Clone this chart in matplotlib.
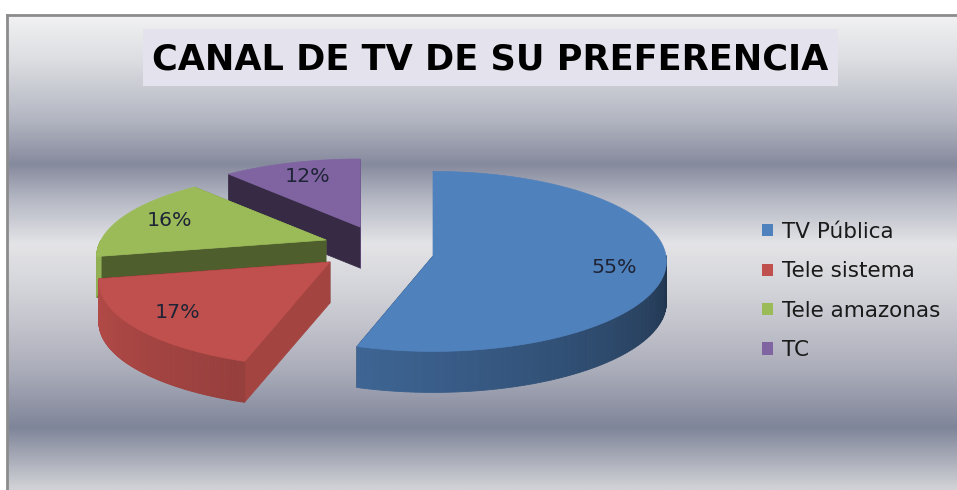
import numpy as np
import matplotlib.pyplot as plt
from matplotlib.patches import Polygon, Rectangle, Patch
from matplotlib.colors import to_rgb

# data
labels = ["TV Pública", "Tele sistema", "Tele amazonas", "TC"]
values = [55, 17, 16, 12]
colors = ["#4F81BD", "#C0504D", "#9BBB59", "#8064A2"]
title = "CANAL DE TV DE SU PREFERENCIA"

# layout of the exploded 3d pie, in pixels (one entry per slice)
centers = [(433, 256), (330, 262), (326, 240), (360, 227)]
radii = [(233, 90, 0.06), (225, 85, 0.24), (225, 85, 0.2), (225, 85, 0.2)]
depth = 41
draw_order = [3, 2, 1, 0]

# background band colours (pixel y, colour)
bg_y = [15, 60, 120, 165, 200, 245, 300, 370, 428, 488]
bg_c = ["#f2f2f3", "#dddee2", "#b3b6c2", "#868a9d", "#b5b8c4",
        "#e4e4e7", "#cfd0d6", "#abadba", "#7f8599", "#d0d1d6"]

W, H = 957, 490
FONT = "DejaVu Sans"
fig = plt.figure(figsize=(W/100, H/100), dpi=100)
ax = fig.add_axes([0, 0, 1, 1])
ax.set_xlim(0, W)
ax.set_ylim(H, 0)
ax.axis("off")

# gradient background
ys = np.arange(15, H+1)
rgb = np.array([to_rgb(c) for c in bg_c])
col = np.stack([np.interp(ys, bg_y, rgb[:, i]) for i in range(3)], axis=1)
ax.imshow(col[:, None, :], extent=[7, W, H, 15], aspect="auto", zorder=0, interpolation="bilinear")
ax.plot([7, 7], [15, H], color="#8c8c8c", lw=2, zorder=1)
ax.plot([7, W], [15, 15], color="#8c8c8c", lw=2, zorder=1)

# title
ax.add_patch(Rectangle((143, 29), 695, 57, facecolor="#e4e2ec", edgecolor="none", zorder=1))
t = ax.text(490, 59, title, ha="center", va="center", fontsize=24, fontweight="bold",
            family=FONT, color="black", zorder=2)
fig.canvas.draw()
t.set_fontsize(24 * 678 / t.get_window_extent().width)


def shade(c, f):
    r, g, b = to_rgb(c)
    return (r*f, g*f, b*f)


def pt(i, a):
    cx, cy = centers[i]
    rx, ry, k = radii[i]
    r = np.radians(a)
    s = 1 - k*np.sin(r)
    return np.array([cx + rx*s*np.cos(r), cy - ry*s*np.sin(r)])


total = float(sum(values))
bounds = []
start = 90.0
for v in values:
    end = start - 360*v/total
    bounds.append((end, start))
    start = end

# label font size: "55%" is about 45 px wide
probe = ax.text(0, 0, "55%", fontsize=12, family=FONT)
fig.canvas.draw()
lab_fs = 12 * 45 / probe.get_window_extent().width
probe.remove()

z = 3
for i in draw_order:
    a1, a0 = bounds[i]
    c = np.array(centers[i], float)
    d = np.array([0, depth])
    # radial faces, back one first
    faces = []
    for a, nrm in [(a1, a1-90), (a0, a0+90)]:
        p = pt(i, a)
        f = 0.42 + 0.45*max(0, np.cos(np.radians(nrm)))
        faces.append((p[1], [c, p, p+d, c+d], f))
    faces.sort(key=lambda q: q[0])
    for _, poly, f in faces:
        ax.add_patch(Polygon(poly, closed=True, facecolor=shade(colors[i], f),
                             edgecolor=shade(colors[i], f), lw=0.5, zorder=z))
    z += 1
    # outer side (front part only)
    ts = np.linspace(a1, a0, 200)
    for ta, tb in zip(ts[:-1], ts[1:]):
        tm = (ta+tb)/2
        if np.sin(np.radians(tm)) >= 0:
            continue
        u = ((tm + 180) % 360) / 180
        f = 0.95 - 0.55*u**1.3
        pa, pb = pt(i, ta), pt(i, tb)
        ax.add_patch(Polygon([pa, pb, pb+d, pa+d], closed=True, facecolor=shade(colors[i], f),
                             edgecolor=shade(colors[i], f), lw=0.6, zorder=z))
    z += 1
    # top face
    top = [c] + [pt(i, a) for a in np.linspace(a1, a0, 120)]
    ax.add_patch(Polygon(top, closed=True, facecolor=colors[i], edgecolor=colors[i],
                         lw=0.5, zorder=z))
    z += 1
    # label
    am = (a0+a1)/2
    lp = c + 0.78*(pt(i, am) - c)
    ax.text(lp[0], lp[1], "%d%%" % values[i], ha="center", va="center", fontsize=lab_fs,
            family=FONT, color="#1e2436", zorder=50)

# legend, text sized so "Tele amazonas" is about 160 px wide
probe = ax.text(0, 0, "Tele amazonas", fontsize=12, family=FONT)
fig.canvas.draw()
leg_fs = 12 * 158 / probe.get_window_extent().width
probe.remove()

handles = [Patch(facecolor=colors[i], edgecolor="none") for i in range(len(labels))]
leg = ax.legend(handles, labels, loc="center left", bbox_to_anchor=(762/W, 1-291/H),
                frameon=False, handlelength=0.5, handleheight=0.5,
                handletextpad=0.45, labelspacing=0.9, borderpad=0, borderaxespad=0,
                prop={"family": FONT, "size": leg_fs})
for tx in leg.get_texts():
    tx.set_color("#1a1a1a")

fig.savefig("out.png", dpi=100)
